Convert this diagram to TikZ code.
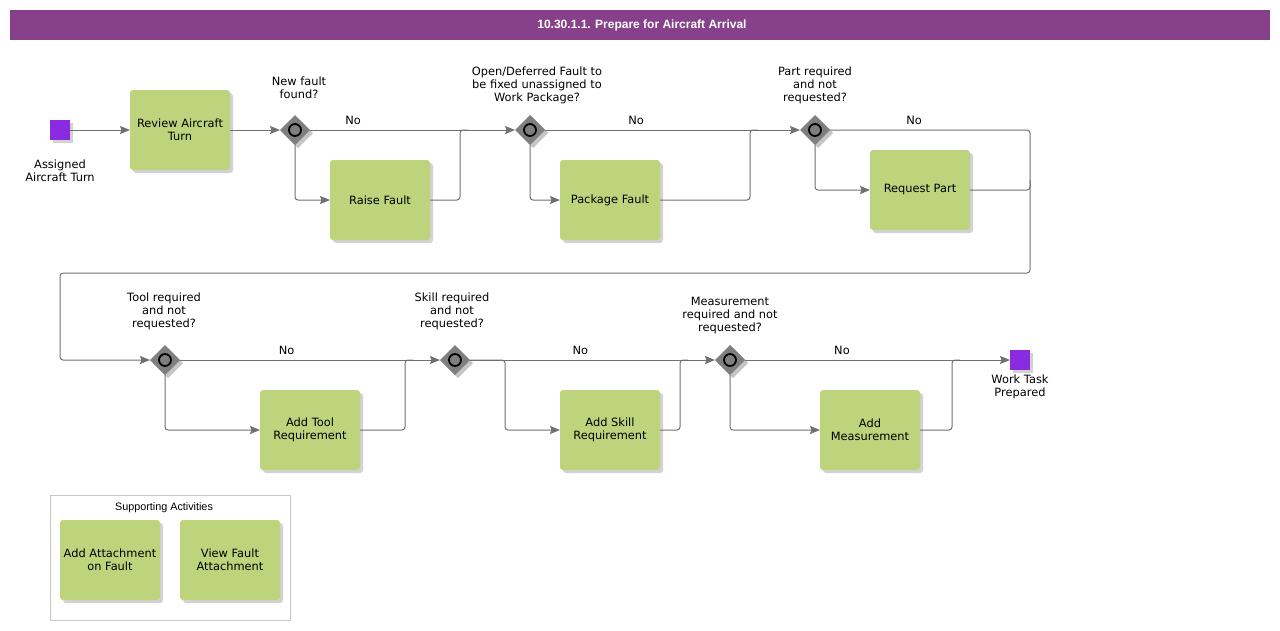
\documentclass[tikz,border=0pt]{standalone}
\usepackage{fontspec}
\setmainfont{DejaVu Sans}
\newfontfamily\arialf{Liberation Sans}
\usetikzlibrary{shapes.geometric,shadows,arrows.meta}
\definecolor{titlepurple}{HTML}{86418A}
\definecolor{taskgreen}{HTML}{BDD37C}
\definecolor{evpurple}{HTML}{8A2BE2}
\definecolor{gwgray}{HTML}{7F7F7F}
\definecolor{linegray}{HTML}{707070}
\definecolor{framegray}{HTML}{C8C8C8}
\tikzset{
  txt/.style={font=\fontsize{11.4}{13}\selectfont, align=center, inner sep=0pt},
  task/.style={rectangle, rounded corners=3pt, fill=taskgreen, minimum width=100pt, minimum height=80pt,
    inner sep=2pt, outer sep=0pt, align=center, font=\fontsize{11.4}{13}\selectfont,
    drop shadow={shadow xshift=3pt, shadow yshift=-3pt, fill=black!35, opacity=0.5}},
  gateway/.style={diamond, fill=gwgray, minimum width=30pt, minimum height=30pt, inner sep=0pt, outer sep=0pt,
    drop shadow={shadow xshift=3pt, shadow yshift=-3pt, fill=black!45, opacity=0.5},
    path picture={\draw[line width=1.8pt, black] (path picture bounding box.center) circle (6pt);}},
  event/.style={rectangle, fill=evpurple, minimum width=20pt, minimum height=20pt, inner sep=0pt, outer sep=0pt,
    drop shadow={shadow xshift=3pt, shadow yshift=-3pt, fill=black!35, opacity=0.5}},
  flow/.style={draw=linegray, line width=1pt, rounded corners=3pt, -{Stealth[length=10pt,width=8pt,inset=1.5pt]}},
  merge/.style={draw=linegray, line width=1pt, rounded corners=3pt},
}
\begin{document}
\begin{tikzpicture}[x=1pt,y=-1pt]
\useasboundingbox (0,0) rectangle (1280,630);
% title
\fill[titlepurple] (10,10) rectangle (1270,40);
\node[font=\arialf\bfseries\fontsize{12}{14}\selectfont, text=white, inner sep=0pt] (title) at (642,25) {10.30.1.1. Prepare for Aircraft Arrival};

% row 1
\node[event] (start) at (60,130) {};
\node[txt] (startlbl) at (60,171) {Assigned\\Aircraft Turn};
\node[task] (review) at (180,130) {Review Aircraft\\Turn};
\node[gateway] (gw1) at (295,130) {};
\node[txt] (gw1lbl) at (299,88) {New fault\\found?};
\node[task] (raise) at (380,200) {Raise Fault};
\node[gateway] (gw2) at (530,130) {};
\node[txt] (gw2lbl) at (537,85) {Open/Deferred Fault to\\be fixed unassigned to\\Work Package?};
\node[task] (pkg) at (610,200) {Package Fault};
\node[gateway] (gw3) at (815,130) {};
\node[txt] (gw3lbl) at (815,85) {Part required\\and not\\requested?};
\node[task] (req) at (920,190) {Request Part};

% row 2
\node[gateway] (gw4) at (165,360) {};
\node[txt] (gw4lbl) at (164,311) {Tool required\\and not\\requested?};
\node[task] (tool) at (310,430) {Add Tool\\Requirement};
\node[gateway] (gw5) at (455,360) {};
\node[txt] (gw5lbl) at (452,311) {Skill required\\and not\\requested?};
\node[task] (skill) at (610,430) {Add Skill\\Requirement};
\node[gateway] (gw6) at (730,360) {};
\node[txt] (gw6lbl) at (730,316) {Measurement\\required and not\\requested?};
\node[task] (meas) at (870,430) {Add\\Measurement};
\node[event] (end) at (1020,360) {};
\node[txt] (endlbl) at (1020,387) {Work Task\\Prepared};

% junction coordinates
\coordinate (j1) at (460,130);
\coordinate (j2) at (750,130);
\coordinate (j3) at (1030,130);
\coordinate (j3b) at (1030,273);
\coordinate (j3c) at (60,273);
\coordinate (j3d) at (60,360);
\coordinate (j4) at (405,360);
\coordinate (j5) at (505,360);
\coordinate (j6) at (680,360);
\coordinate (j7) at (952,360);

% flows row 1
\draw[flow] (start) -- (review);
\draw[flow] (review) -- (gw1);
\draw[flow] (gw1.east) -- node[txt, pos=0.21, above=5pt] (no1) {No} (gw2.west);
\draw[flow] (gw1.south) |- (raise.west);
\draw[merge] (raise.east) -| (j1) -- ++(8,0);
\draw[flow] (gw2.south) |- (pkg.west);
\draw[flow] (gw2.east) -- node[txt, pos=0.357, above=5pt] (no2) {No} (gw3.west);
\draw[merge] (pkg.east) -| (j2) -- ++(8,0);
\draw[flow] (gw3.south) |- (req.west);
\draw[flow] (gw3.east) -- node[txt, pos=0.42, above=5pt] (no3) {No} (j3) -- (j3b) -- (j3c) -- (j3d) -- (gw4.west);
\draw[merge] (req.east) -| ([yshift=10pt]j3 |- req.east);

% flows row 2
\draw[flow] (gw4.south) |- (tool.west);
\draw[flow] (gw4.east) -- node[txt, pos=0.41, above=5pt] (no4) {No} (gw5.west);
\draw[merge] (tool.east) -| (j4) -- ++(8,0);
\draw[flow] (gw5.east) -- (j5) |- (skill.west);
\draw[flow] (gw5.east) -- node[txt, pos=0.45, above=5pt] (no5) {No} (gw6.west);
\draw[merge] (skill.east) -| (j6) -- ++(8,0);
\draw[flow] (gw6.south) |- (meas.west);
\draw[flow] (gw6.east) -- node[txt, pos=0.366, above=5pt] (no6) {No} (end.west);
\draw[merge] (meas.east) -| (j7) -- ++(8,0);

% supporting activities
\draw[framegray, line width=0.8pt] (50,495) rectangle (290,620);
\node[font=\arialf\fontsize{10.8}{13}\selectfont, inner sep=0pt] (suplbl) at (164,507.5) {Supporting Activities};
\node[task] (attach) at (110,560) {Add Attachment\\on Fault};
\node[task] (viewatt) at (230,560) {View Fault\\Attachment};
\end{tikzpicture}
\end{document}
